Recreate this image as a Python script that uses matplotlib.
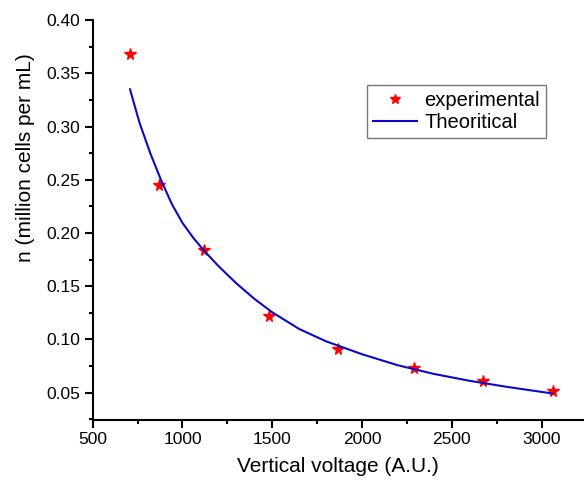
import matplotlib
matplotlib.use("Agg")
from matplotlib import pyplot as plt
from matplotlib.ticker import MultipleLocator

plt.rcParams['font.family'] = ['Liberation Sans', 'DejaVu Sans']

# experimental points
exp_voltage = [708, 869, 1120, 1483, 1866, 2290, 2673, 3061]
exp_n = [0.368, 0.245, 0.184, 0.122, 0.091, 0.073, 0.061, 0.052]

# theoretical curve
theo_voltage = [708, 760, 820, 880, 940, 1000, 1060, 1120, 1200, 1300, 1400, 1500,
                1650, 1800, 2000, 2200, 2400, 2600, 2800, 3061]
theo_n = [0.335, 0.304, 0.2753, 0.250, 0.2275, 0.2095, 0.1955, 0.1835, 0.1690, 0.1527,
          0.1382, 0.1255, 0.1098, 0.0982, 0.0861, 0.0757, 0.0676, 0.0611, 0.0556, 0.0492]

fig = plt.figure(figsize=(5.84, 4.8), dpi=100)
ax = fig.add_axes([0.1587, 0.125, 0.8413, 0.833])

ax.plot(exp_voltage, exp_n, linestyle="none", marker="*", markersize=8.5, color="red", label="experimental")
ax.plot(theo_voltage, theo_n, color="#0a0acc", linewidth=1.5, label="Theoritical")

ax.set_xlim(500, 3236)
ax.set_ylim(0.0243, 0.40)
ax.xaxis.set_major_locator(MultipleLocator(500))
ax.xaxis.set_minor_locator(MultipleLocator(250))
ax.yaxis.set_major_locator(MultipleLocator(0.05))
ax.yaxis.set_minor_locator(MultipleLocator(0.025))
ax.yaxis.set_major_formatter(plt.FormatStrFormatter('%.2f'))

ax.spines['top'].set_visible(False)
ax.spines['right'].set_visible(False)
ax.spines['left'].set_linewidth(1.5)
ax.spines['bottom'].set_linewidth(1.5)
ax.tick_params(which='major', direction='out', length=6, width=1.5, labelsize=12.5, pad=3)
ax.tick_params(which='minor', direction='out', length=3, width=1.5)

ax.set_xlabel("Vertical voltage (A.U.)", fontsize=15, labelpad=7)
ax.set_ylabel("n (million cells per mL)", fontsize=15)
ax.yaxis.set_label_coords(-0.117, 0.656)

leg = ax.legend(loc="upper left", bbox_to_anchor=(0.558, 0.8375), fontsize=14.5, frameon=True,
                fancybox=False, edgecolor="#555555", handlelength=2.2, borderpad=0.3,
                labelspacing=0.12, handletextpad=0.35, borderaxespad=0, markerscale=0.85)
leg.get_frame().set_linewidth(1.0)

plt.savefig("out.png", dpi=100)
